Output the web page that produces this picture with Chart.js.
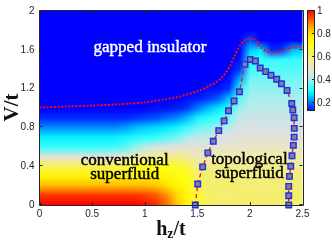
<!DOCTYPE html>
<html><head><meta charset="utf-8">
<script src="https://cdn.jsdelivr.net/npm/chart.js@4"></script>
<style>html,body{margin:0;padding:0;background:#fff}#wrap{width:332px;height:240px}</style>
</head><body><div id="wrap"><canvas id="c" width="332" height="240"></canvas></div>
<script>
// ---- data ----
const xTicks = [0, 0.5, 1, 1.5, 2, 2.5];
const yTicks = [0, 0.4, 0.8, 1.2, 1.6, 2];
const cbTicks = [0.2, 0.4, 0.6, 0.8, 1];

const hzGrid = [0,0.1,0.2,0.3,0.4,0.5,0.6,0.7,0.8,0.9,1.0,1.1,1.2,1.3,1.4,1.5,1.6,1.7,1.8,1.9,2.0,2.1,2.2,2.3,2.4,2.5];
const vGrid  = [0,0.1,0.2,0.3,0.4,0.5,0.6,0.7,0.8,0.9,1.0,1.1,1.2,1.3,1.4,1.5,1.6,1.7,1.8,1.9,2.0];

// heat values, one column per hz in hzGrid, listed from V=0 up to V=2
const heatValues = [
 [1.00,0.96,0.84,0.76,0.64,0.48,0.33,0.29,0.22,0.15,0.12,0.12,0.12,0.12,0.12,0.12,0.12,0.12,0.12,0.12,0.12],
 [1.00,0.96,0.84,0.76,0.64,0.48,0.33,0.29,0.22,0.15,0.12,0.12,0.12,0.12,0.12,0.12,0.12,0.12,0.12,0.12,0.12],
 [1.00,0.96,0.84,0.76,0.64,0.48,0.33,0.29,0.22,0.15,0.12,0.12,0.12,0.12,0.12,0.12,0.12,0.12,0.12,0.12,0.12],
 [1.00,0.96,0.84,0.76,0.64,0.48,0.33,0.29,0.22,0.15,0.12,0.12,0.12,0.12,0.12,0.12,0.12,0.12,0.12,0.12,0.12],
 [1.00,0.96,0.84,0.76,0.64,0.48,0.33,0.29,0.22,0.15,0.12,0.12,0.12,0.12,0.12,0.12,0.12,0.12,0.12,0.12,0.12],
 [1.00,0.96,0.84,0.76,0.64,0.48,0.33,0.29,0.22,0.15,0.12,0.12,0.12,0.12,0.12,0.12,0.12,0.12,0.12,0.12,0.12],
 [1.00,0.96,0.84,0.76,0.64,0.48,0.33,0.29,0.22,0.15,0.12,0.12,0.12,0.12,0.12,0.12,0.12,0.12,0.12,0.12,0.12],
 [1.00,0.96,0.84,0.76,0.64,0.49,0.34,0.29,0.22,0.15,0.12,0.12,0.12,0.12,0.12,0.12,0.12,0.12,0.12,0.12,0.12],
 [1.00,0.96,0.84,0.76,0.65,0.50,0.35,0.30,0.23,0.15,0.12,0.12,0.12,0.12,0.12,0.12,0.12,0.12,0.12,0.12,0.12],
 [1.00,0.96,0.84,0.76,0.67,0.53,0.39,0.31,0.25,0.16,0.12,0.12,0.12,0.12,0.12,0.12,0.12,0.12,0.12,0.12,0.12],
 [0.99,0.95,0.84,0.76,0.69,0.56,0.43,0.32,0.26,0.17,0.12,0.12,0.12,0.12,0.12,0.12,0.12,0.12,0.12,0.12,0.12],
 [0.97,0.93,0.83,0.75,0.70,0.58,0.46,0.33,0.27,0.18,0.13,0.12,0.12,0.12,0.12,0.12,0.12,0.12,0.12,0.12,0.12],
 [0.92,0.89,0.80,0.74,0.70,0.58,0.47,0.35,0.28,0.20,0.13,0.12,0.12,0.12,0.12,0.12,0.12,0.12,0.12,0.12,0.12],
 [0.83,0.81,0.77,0.72,0.68,0.58,0.48,0.37,0.30,0.22,0.14,0.12,0.12,0.12,0.12,0.12,0.12,0.12,0.12,0.12,0.12],
 [0.75,0.74,0.72,0.70,0.66,0.57,0.49,0.41,0.33,0.25,0.16,0.13,0.12,0.12,0.12,0.12,0.12,0.12,0.12,0.12,0.12],
 [0.68,0.67,0.65,0.63,0.59,0.53,0.48,0.43,0.37,0.30,0.21,0.14,0.12,0.12,0.12,0.12,0.12,0.12,0.12,0.12,0.12],
 [0.63,0.63,0.62,0.61,0.59,0.54,0.49,0.44,0.38,0.32,0.25,0.16,0.13,0.12,0.12,0.12,0.12,0.12,0.12,0.12,0.12],
 [0.62,0.62,0.62,0.61,0.59,0.55,0.50,0.46,0.40,0.34,0.28,0.19,0.13,0.12,0.12,0.12,0.12,0.12,0.12,0.12,0.12],
 [0.62,0.62,0.62,0.61,0.59,0.55,0.50,0.47,0.43,0.38,0.32,0.26,0.16,0.13,0.12,0.12,0.12,0.12,0.12,0.12,0.12],
 [0.62,0.62,0.61,0.60,0.58,0.54,0.50,0.48,0.46,0.44,0.40,0.36,0.31,0.24,0.16,0.13,0.12,0.12,0.12,0.12,0.12],
 [0.62,0.62,0.61,0.60,0.58,0.55,0.51,0.48,0.46,0.45,0.43,0.41,0.39,0.37,0.34,0.31,0.26,0.18,0.12,0.12,0.12],
 [0.62,0.62,0.61,0.60,0.58,0.55,0.51,0.48,0.46,0.45,0.43,0.41,0.39,0.37,0.35,0.33,0.28,0.12,0.12,0.12,0.12],
 [0.62,0.62,0.61,0.60,0.58,0.55,0.51,0.48,0.46,0.45,0.43,0.41,0.39,0.37,0.35,0.33,0.15,0.12,0.12,0.12,0.12],
 [0.62,0.62,0.61,0.60,0.58,0.55,0.51,0.48,0.46,0.45,0.43,0.41,0.39,0.37,0.35,0.33,0.16,0.12,0.12,0.12,0.12],
 [0.62,0.62,0.61,0.60,0.58,0.55,0.51,0.48,0.46,0.45,0.43,0.41,0.39,0.37,0.35,0.33,0.25,0.12,0.12,0.12,0.12],
 [0.62,0.62,0.61,0.60,0.58,0.55,0.51,0.48,0.46,0.45,0.43,0.41,0.39,0.37,0.35,0.33,0.26,0.12,0.12,0.12,0.12]
];

// gapped-insulator boundary (red dotted line)
const gapHz = [0,0.25,0.5,0.75,1.0,1.2,1.34,1.43,1.53,1.62,1.68,1.75,1.81,1.86,1.91,1.95,2.0,2.05,2.1,2.16,2.22,2.29,2.35,2.41,2.5];
const gapV  = [1.005,1.015,1.025,1.038,1.058,1.09,1.12,1.15,1.183,1.233,1.267,1.333,1.433,1.55,1.65,1.70,1.717,1.70,1.633,1.583,1.573,1.583,1.607,1.623,1.627];

// topological boundary (squares + red dashed line)
const topoHz = [1.481,1.504,1.551,1.600,1.652,1.704,1.755,1.797,1.849,1.900,1.953,2.003,2.052,2.098,2.150,2.200,2.255,2.300,2.353,2.398,2.408,2.420,2.422,2.420,2.413,2.400,2.388,2.376,2.369,2.369,2.369];
const topoV  = [0,0.217,0.393,0.537,0.657,0.767,0.867,0.972,1.073,1.167,1.45,1.50,1.485,1.413,1.375,1.337,1.297,1.25,1.18,1.047,0.98,0.90,0.79,0.70,0.615,0.507,0.40,0.295,0.192,0.095,0];

const phaseLabels = [
  {lines:['gapped insulator'], hz:1.05, v:1.58, color:'#ffffff'},
  {lines:['conventional','superfluid'], hz:0.81, v:0.415, color:'#000000'},
  {lines:['topological','superfluid'], hz:1.995, v:0.425, color:'#000000'}
];

// ---- colour map ----
const cmapStops = [[0,0,0,120],[0.08,0,0,220],[0.12,0,0,255],[0.2,0,110,255],[0.28,0,235,255],[0.32,40,255,255],
  [0.4,160,240,240],[0.47,225,225,225],[0.55,240,236,170],[0.62,245,238,110],[0.7,255,255,20],[0.78,255,240,0],
  [0.88,255,150,0],[1,255,0,0]];
function cmap(v){
  if (v<=cmapStops[0][0]) return cmapStops[0].slice(1);
  for (let k=1;k<cmapStops.length;k++){
    const a=cmapStops[k-1], b=cmapStops[k];
    if (v<=b[0]){ const t=(v-a[0])/(b[0]-a[0]);
      return [a[1]+(b[1]-a[1])*t, a[2]+(b[2]-a[2])*t, a[3]+(b[3]-a[3])*t]; }
  }
  return cmapStops[cmapStops.length-1].slice(1);
}

const INK = '#262626';
const serif = "'Liberation Serif', 'Times New Roman', serif";
const sans = "'Liberation Sans', Arial, sans-serif";

const heatPlugin = {
  id:'heat',
  beforeDatasetsDraw(chart){
    const {ctx, chartArea:a, scales:{x,y}} = chart;
    const nc=hzGrid.length, nr=vGrid.length;
    const off=document.createElement('canvas'); off.width=nc; off.height=nr;
    const octx=off.getContext('2d'); const img=octx.createImageData(nc,nr);
    for (let i=0;i<nc;i++) for (let j=0;j<nr;j++){
      const c=cmap(heatValues[i][nr-1-j]); const p=(j*nc+i)*4;
      img.data[p]=Math.round(c[0]); img.data[p+1]=Math.round(c[1]); img.data[p+2]=Math.round(c[2]); img.data[p+3]=255;
    }
    octx.putImageData(img,0,0);
    const dx=(hzGrid[1]-hzGrid[0])/2, dy=(vGrid[1]-vGrid[0])/2;
    const x0=x.getPixelForValue(hzGrid[0]-dx), x1=x.getPixelForValue(hzGrid[nc-1]+dx);
    const y0=y.getPixelForValue(vGrid[nr-1]+dy), y1=y.getPixelForValue(vGrid[0]-dy);
    ctx.save(); ctx.beginPath(); ctx.rect(a.left,a.top,a.right-a.left,a.bottom-a.top); ctx.clip();
    ctx.imageSmoothingEnabled=true;
    ctx.drawImage(off,x0,y0,x1-x0,y1-y0);
    ctx.restore();
  }
};

const overlayPlugin = {
  id:'overlay',
  afterDatasetsDraw(chart){
    const {ctx, chartArea:a, scales:{x,y}} = chart;
    ctx.save();
    // phase labels
    ctx.textAlign='center'; ctx.textBaseline='alphabetic';
    ctx.font = "17px " + serif; ctx.lineWidth=0.45; ctx.lineJoin='round';
    phaseLabels.forEach(l=>{
      ctx.fillStyle=l.color; ctx.strokeStyle=l.color;
      const cx=x.getPixelForValue(l.hz), cy=y.getPixelForValue(l.v);
      l.lines.forEach((t,k)=>{ ctx.fillText(t,cx,cy+k*14); ctx.strokeText(t,cx,cy+k*14); });
    });
    // box
    ctx.strokeStyle=INK; ctx.lineWidth=1;
    ctx.strokeRect(Math.round(a.left)-0.5, Math.round(a.top)-0.5, Math.round(a.right)-Math.round(a.left)+1, Math.round(a.bottom)-Math.round(a.top)+1);
    // inward ticks
    ctx.beginPath();
    xTicks.forEach(v=>{ const px=Math.round(x.getPixelForValue(v))+0.5;
      ctx.moveTo(px,a.bottom); ctx.lineTo(px,a.bottom-3); ctx.moveTo(px,a.top); ctx.lineTo(px,a.top+3); });
    yTicks.forEach(v=>{ const py=Math.round(y.getPixelForValue(v))-0.5;
      ctx.moveTo(a.left,py); ctx.lineTo(a.left+3,py); ctx.moveTo(a.right,py); ctx.lineTo(a.right-3,py); });
    ctx.stroke();
    ctx.restore();
  },
  afterDraw(chart){
    const {ctx, chartArea:a} = chart;
    ctx.save();
    // colour bar
    const cbL=308, cbW=6, cbTop=a.top, cbScale=115, cbBot=110;
    for (let py=cbTop; py<cbBot; py++){
      const v=1-(py+0.5-cbTop)/cbScale; const c=cmap(v);
      ctx.fillStyle='rgb('+Math.round(c[0])+','+Math.round(c[1])+','+Math.round(c[2])+')';
      ctx.fillRect(cbL,py,cbW,1);
    }
    ctx.strokeStyle=INK; ctx.lineWidth=1;
    ctx.strokeRect(cbL-0.5,cbTop-0.5,cbW+1,cbBot-cbTop+1);
    ctx.fillStyle=INK; ctx.font="10px "+sans; ctx.textAlign='left'; ctx.textBaseline='middle';
    ctx.beginPath();
    cbTicks.forEach(t=>{ const py=Math.round(cbTop+(1-t)*cbScale)-0.5;
      ctx.moveTo(cbL+cbW,py); ctx.lineTo(cbL+cbW-2,py);
      ctx.fillText(String(t), cbL+cbW+3, py+0.5); });
    ctx.stroke();
    // axis titles
    ctx.fillStyle='#111111';
    ctx.save(); ctx.translate(17.5,107.5); ctx.rotate(-Math.PI/2);
    ctx.font="bold 21px "+serif; ctx.textAlign='center'; ctx.textBaseline='alphabetic';
    ctx.fillText('V/t',0,0); ctx.restore();
    const big="bold 20px "+serif, small="bold 14px "+serif;
    ctx.textAlign='left'; ctx.textBaseline='alphabetic';
    ctx.font=big; const wh=ctx.measureText('h').width, ws=ctx.measureText('/t').width;
    ctx.font=small; const wz=ctx.measureText('z').width;
    const tot=wh+wz+ws; let sx=(a.left+a.right)/2 - tot/2, base=235;
    ctx.font=big; ctx.fillText('h',sx,base); sx+=wh;
    ctx.font=small; ctx.fillText('z',sx,base+3); sx+=wz;
    ctx.font=big; ctx.fillText('/t',sx,base);
    ctx.restore();
  }
};

const tickFont = {family: sans, size: 10};
new Chart(document.getElementById('c'), {
  type:'scatter',
  data:{ datasets:[
    { label:'gap', data: gapHz.map((h,i)=>({x:h,y:gapV[i]})), showLine:true, tension:0.3,
      borderColor:'#f01010', borderWidth:2, borderDash:[2,1.6], pointRadius:0, clip:false },
    { label:'topo', data: topoHz.map((h,i)=>({x:h,y:topoV[i]})), showLine:true, tension:0,
      borderColor:'#e82020', borderWidth:1.4, borderDash:[4,3],
      pointStyle:'rect', pointRadius:3.9, pointBorderWidth:1.4,
      pointBackgroundColor:'#7f8096', pointBorderColor:'#1f2ee6', clip:false }
  ]},
  options:{
    responsive:false, animation:false, devicePixelRatio:1,
    layout:{padding:{top:5,right:29.5,left:0,bottom:0}},
    plugins:{legend:{display:false}, tooltip:{enabled:false}},
    scales:{
      x:{type:'linear', min:0, max:2.5,
        afterBuildTicks:s=>{s.ticks=xTicks.map(v=>({value:v}));},
        afterFit:s=>{s.height=35;},
        ticks:{font:tickFont, color:INK, padding:3, maxRotation:0, callback:v=>String(v)},
        grid:{display:false, drawTicks:false}, border:{display:false}},
      y:{type:'linear', min:0, max:2,
        afterBuildTicks:s=>{s.ticks=yTicks.map(v=>({value:v}));},
        afterFit:s=>{s.width=39.5;},
        ticks:{font:tickFont, color:INK, padding:5, callback:v=>String(v)},
        grid:{display:false, drawTicks:false}, border:{display:false}}
    }
  },
  plugins:[heatPlugin, overlayPlugin]
});
</script></body></html>
